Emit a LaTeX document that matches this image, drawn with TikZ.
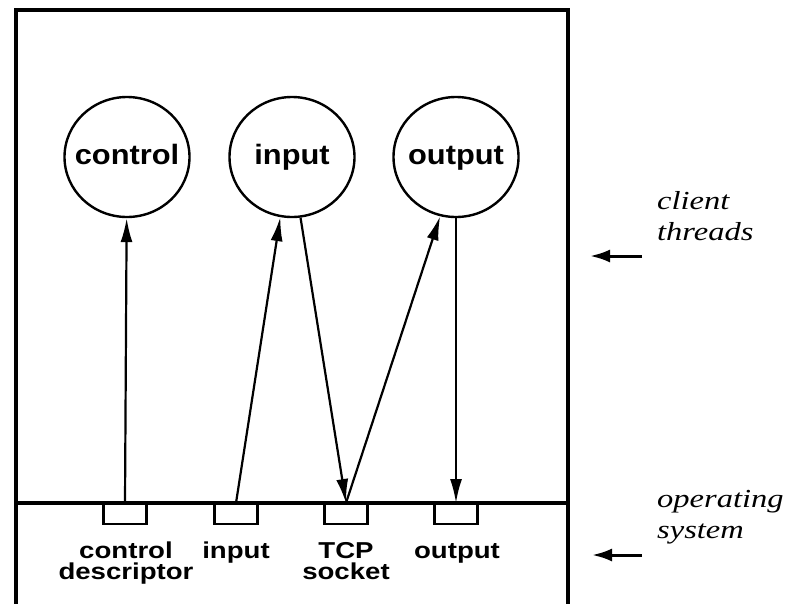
\documentclass[tikz,border=0pt]{standalone}
\usepackage{fontspec}
\usetikzlibrary{shapes.geometric,arrows.meta}
\newfontfamily\circfont[FakeStretch=1.1]{Liberation Sans}
\newfontfamily\boxfont[FakeStretch=1.2]{Liberation Sans}
\newfontfamily\sidefont[FakeStretch=1.25]{Liberation Serif}
\begin{document}
\begin{tikzpicture}[x=1pt,y=-1pt,
  frame/.style={line width=3.2pt},
  thread/.style={ellipse,draw,line width=2.4pt,minimum width=125pt,minimum height=120pt,inner sep=0pt},
  threadlab/.style={inner sep=0pt,font=\circfont\bfseries\fontsize{28}{30}\selectfont,text height=20pt,text depth=6pt},
  slot/.style={rectangle,draw,line width=2.2pt,minimum width=43pt,minimum height=20pt,inner sep=0pt,anchor=north},
  boxlab/.style={anchor=base,inner sep=0pt,align=center,font=\boxfont\bfseries\fontsize{23}{21}\selectfont},
  sidelab/.style={anchor=base west,inner sep=0pt,align=left,font=\sidefont\itshape\fontsize{26}{31}\selectfont},
  arr/.style={line width=2.2pt,-{Latex[length=24pt,width=12pt]}},
  sidearr/.style={line width=3pt,-{Latex[length=20pt,width=13pt]}}]
\useasboundingbox (0,0) rectangle (791,603);
% frame
\coordinate (fbl) at (16,604);
\coordinate (ftl) at (16,10);
\coordinate (ftr) at (568,10);
\coordinate (fbr) at (568,604);
\coordinate (dl) at (16,503);
\coordinate (dr) at (568,503);
\draw[frame,line join=miter] (fbl) -- (ftl) -- (ftr) -- (fbr);
\draw[frame] (dl) -- (dr);
% threads
\node[thread] (cctl) at (127,157) {};
\node[thread] (cin) at (292,157) {};
\node[thread] (cout) at (456,157) {};
\node[threadlab] (tctl) at (cctl.center) {control};
\node[threadlab] (tin) at (cin.center) {input};
\node[threadlab] (tout) at (cout.center) {output};
% slots
\node[slot] (cbox) at (125,503) {};
\node[slot] (ibox) at (236,503) {};
\node[slot] (tbox) at (346,503) {};
\node[slot] (obox) at (456,503) {};
% slot labels
\node[boxlab] (lc) at (126,579) {control\\descriptor};
\node[boxlab] (li) at (236,558) {input};
\node[boxlab] (lt) at (346,579) {TCP\\socket};
\node[boxlab] (lo) at (457,558) {output};
% connectors
\draw[arr] (cbox.north) -- (cctl);
\draw[arr] (ibox.north) -- (cin.259);
\draw[arr] (cin.278) -- (tbox.north);
\draw[arr] (tbox.north) -- (cout.255);
\draw[arr] (cout.270) -- (obox.north);
% side labels
\node[sidelab] (lthreads) at (657,240) {client\\threads};
\node[sidelab] (los) at (657,538) {operating\\system};
\coordinate (a1t) at (642,256);
\coordinate (a1h) at (590,256);
\coordinate (a2t) at (642,555);
\coordinate (a2h) at (592,555);
\draw[sidearr] (a1t) -- (a1h);
\draw[sidearr] (a2t) -- (a2h);
\end{tikzpicture}
\end{document}
